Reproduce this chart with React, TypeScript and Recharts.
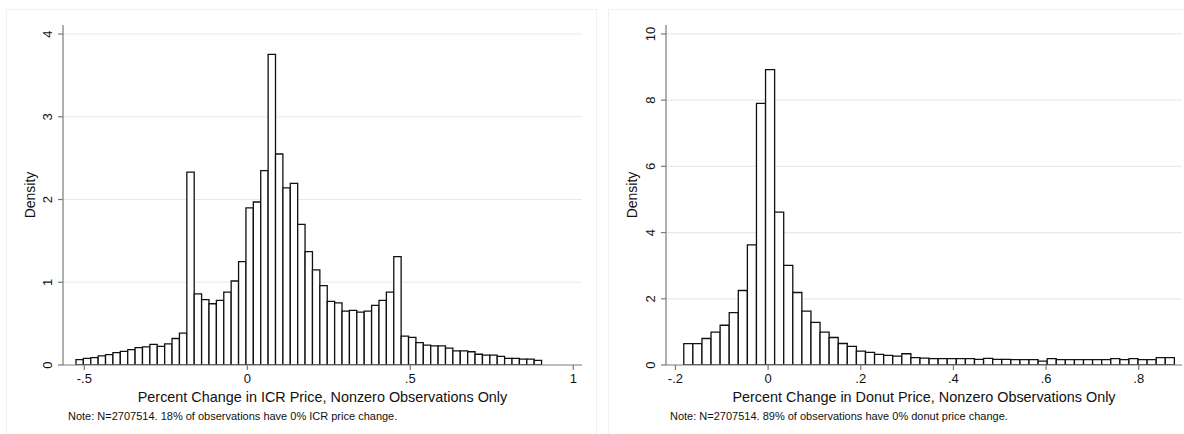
import React from 'react';
import { BarChart, Bar, XAxis, YAxis, CartesianGrid } from 'recharts';

// ---------- Data: ICR price change histogram ----------
const icrBinStart = -0.5255;
const icrBinWidth = 0.02267;
const icrDensity = [
  0.065, 0.08, 0.09, 0.11, 0.125, 0.15, 0.165, 0.185, 0.21, 0.22,
  0.25, 0.225, 0.255, 0.32, 0.385, 2.33, 0.86, 0.79, 0.74, 0.78,
  0.88, 1.015, 1.25, 1.9, 1.97, 2.35, 3.755, 2.55, 2.14, 2.195,
  1.7, 1.37, 1.15, 0.96, 0.77, 0.75, 0.65, 0.66, 0.64, 0.65,
  0.72, 0.78, 0.88, 1.31, 0.35, 0.335, 0.27, 0.24, 0.23, 0.23,
  0.205, 0.17, 0.17, 0.16, 0.13, 0.12, 0.12, 0.105, 0.08, 0.08,
  0.07, 0.07, 0.055,
];
const icrXTicks = [-0.5, 0, 0.5, 1];
const icrXTickLabels = ['-.5', '0', '.5', '1'];
const icrYTicks = [0, 1, 2, 3, 4];
const icrXTitle = 'Percent Change in ICR Price, Nonzero Observations Only';
const icrNote = 'Note: N=2707514. 18% of observations have 0% ICR price change.';

// ---------- Data: Donut price change histogram ----------
const donutBinStart = -0.182;
const donutBinWidth = 0.01961;
const donutDensity = [
  0.646, 0.646, 0.8, 0.99, 1.2, 1.58, 2.25, 3.63, 7.9, 8.92,
  4.62, 3.01, 2.19, 1.63, 1.29, 0.99, 0.83, 0.65, 0.56, 0.42,
  0.38, 0.32, 0.29, 0.27, 0.34, 0.22, 0.21, 0.19, 0.19, 0.19,
  0.19, 0.19, 0.17, 0.2, 0.17, 0.17, 0.16, 0.16, 0.16, 0.12,
  0.19, 0.16, 0.16, 0.16, 0.16, 0.16, 0.16, 0.19, 0.16, 0.19,
  0.16, 0.16, 0.22, 0.22,
];
const donutXTicks = [-0.2, 0, 0.2, 0.4, 0.6, 0.8];
const donutXTickLabels = ['-.2', '0', '.2', '.4', '.6', '.8'];
const donutYTicks = [0, 2, 4, 6, 8, 10];
const donutXTitle = 'Percent Change in Donut Price, Nonzero Observations Only';
const donutNote = 'Note: N=2707514. 89% of observations have 0% donut price change.';

const yTitle = 'Density';

const FONT = '"Liberation Sans", Arial, Helvetica, sans-serif';
const TEXT = '#111111';
const AXIS = '#7a7a7a';
const GRID = '#e3ecec';
const BAR_STROKE = '#111111';

const Y_AXIS_W = 40;
const X_AXIS_H = 30;

type PanelProps = {
  left: number;
  width: number;
  height: number;
  plotLeft: number;
  plotRight: number;
  plotTop: number;
  plotBottom: number;
  binStart: number;
  binWidth: number;
  density: number[];
  xDomain: [number, number];
  yDomain: [number, number];
  xTicks: number[];
  xTickLabels: string[];
  yTicks: number[];
};

const YTick = (props: any) => {
  const { x, y, payload } = props;
  return (
    <text
      x={x}
      y={y}
      transform={`rotate(-90, ${x}, ${y})`}
      textAnchor="middle"
      fontSize={13}
      fontFamily={FONT}
      fill={TEXT}
    >
      {payload.value}
    </text>
  );
};

function Panel(p: PanelProps) {
  const data = p.density.map((d, i) => ({
    x: p.binStart + (i + 0.5) * p.binWidth,
    density: d,
  }));
  const margin = {
    top: p.plotTop,
    left: p.plotLeft - Y_AXIS_W,
    right: p.width - p.plotRight,
    bottom: p.height - p.plotBottom - X_AXIS_H,
  };
  const plotW = p.plotRight - p.plotLeft;
  const pxPerUnit = plotW / (p.xDomain[1] - p.xDomain[0]);
  const barSize = p.binWidth * pxPerUnit - 0.02;
  return (
    <div style={{ position: 'absolute', left: p.left, top: 0 }}>
      <BarChart
        width={p.width}
        height={p.height}
        data={data}
        margin={margin}
        barCategoryGap={0}
        barGap={0}
      >
        <CartesianGrid
          vertical={false}
          stroke={GRID}
          strokeWidth={1.2}
          horizontalValues={p.yTicks.filter((t) => t !== 0)}
        />
        <XAxis
          dataKey="x"
          type="number"
          domain={p.xDomain}
          allowDataOverflow
          ticks={p.xTicks}
          interval={0}
          height={X_AXIS_H}
          tickSize={5}
          tickMargin={4}
          tickFormatter={(v: number) => p.xTickLabels[p.xTicks.indexOf(v)] ?? String(v)}
          axisLine={{ stroke: AXIS, strokeWidth: 1.2 }}
          tickLine={{ stroke: AXIS, strokeWidth: 1.2 }}
          tick={{ fontSize: 13, fontFamily: FONT, fill: TEXT }}
        />
        <YAxis
          type="number"
          domain={p.yDomain}
          allowDataOverflow
          ticks={p.yTicks}
          interval={0}
          width={Y_AXIS_W}
          tickSize={5}
          tickMargin={6}
          axisLine={{ stroke: AXIS, strokeWidth: 1.2 }}
          tickLine={{ stroke: AXIS, strokeWidth: 1.2 }}
          tick={<YTick />}
        />
        <Bar
          dataKey="density"
          fill="#ffffff"
          stroke={BAR_STROKE}
          strokeWidth={1.3}
          barSize={barSize}
          isAnimationActive={false}
        />
      </BarChart>
    </div>
  );
}

export default function App() {
  return (
    <div style={{ position: 'absolute', left: 0, top: 0, width: 1184, height: 434, background: '#ffffff' }}>
      <svg
        width={1184}
        height={434}
        style={{ position: 'absolute', left: 0, top: 0 }}
      >
        <rect x={6.5} y={9.5} width={590} height={430} fill="none" stroke="#edf2f2" />
        <rect x={608.5} y={9.5} width={590} height={430} fill="none" stroke="#edf2f2" />
        {/* Left panel texts */}
        <text x={35} y={195} transform="rotate(-90, 35, 195)" textAnchor="middle" fontSize={14} fontFamily={FONT} fill={TEXT}>
          {yTitle}
        </text>
        <text x={322.5} y={402} textAnchor="middle" fontSize={14.4} fontFamily={FONT} fill={TEXT}>
          {icrXTitle}
        </text>
        <text x={68} y={419.5} fontSize={11} fontFamily={FONT} fill={TEXT}>
          {icrNote}
        </text>
        {/* Right panel texts */}
        <text x={636.5} y={195} transform="rotate(-90, 636.5, 195)" textAnchor="middle" fontSize={14} fontFamily={FONT} fill={TEXT}>
          {yTitle}
        </text>
        <text x={924} y={402} textAnchor="middle" fontSize={14.4} fontFamily={FONT} fill={TEXT}>
          {donutXTitle}
        </text>
        <text x={670} y={419.5} fontSize={11} fontFamily={FONT} fill={TEXT}>
          {donutNote}
        </text>
      </svg>
      <Panel
        left={0}
        width={597}
        height={434}
        plotLeft={63}
        plotRight={582}
        plotTop={25}
        plotBottom={365}
        binStart={icrBinStart}
        binWidth={icrBinWidth}
        density={icrDensity}
        xDomain={[-0.5653, 1.0267]}
        yDomain={[0, 4.109]}
        xTicks={icrXTicks}
        xTickLabels={icrXTickLabels}
        yTicks={icrYTicks}
      />
      <Panel
        left={600}
        width={584}
        height={434}
        plotLeft={66}
        plotRight={582}
        plotTop={25}
        plotBottom={365}
        binStart={donutBinStart}
        binWidth={donutBinWidth}
        density={donutDensity}
        xDomain={[-0.2204, 0.8934]}
        yDomain={[0, 10.27]}
        xTicks={donutXTicks}
        xTickLabels={donutXTickLabels}
        yTicks={donutYTicks}
      />
    </div>
  );
}
